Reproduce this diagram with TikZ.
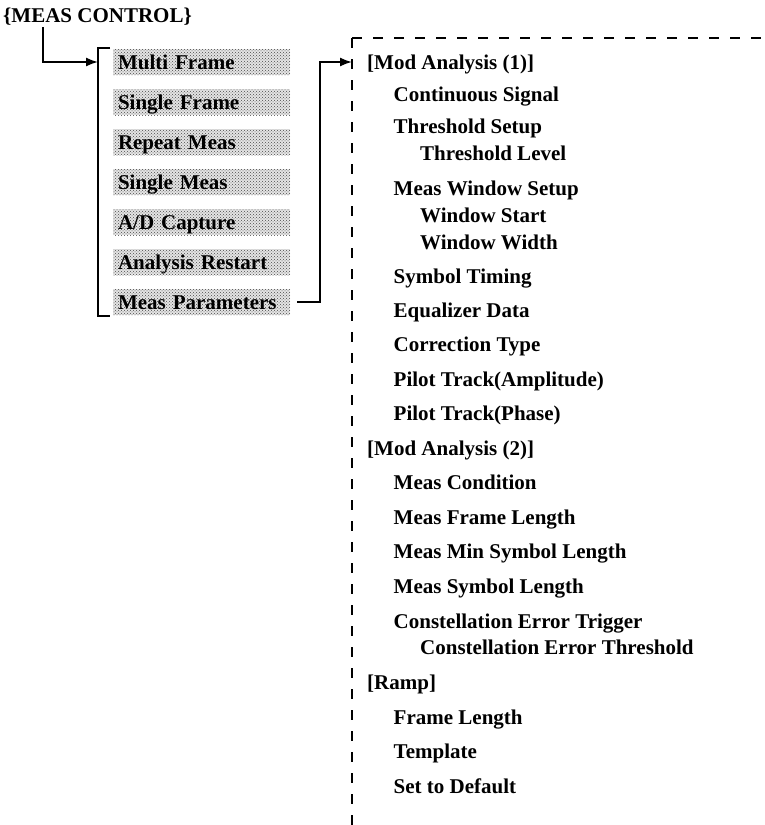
\documentclass[tikz,border=0pt]{standalone}
\usepackage{fontspec}
\setmainfont{Liberation Serif}
\usepackage{tikz}
\usetikzlibrary{arrows.meta,positioning,patterns}
\definecolor{dotgray}{HTML}{4A4A4A}
\definecolor{boxgray}{HTML}{E4E4E4}

\begin{document}
\begin{tikzpicture}[x=1pt,y=-1pt,
  font=\fontsize{21}{25}\selectfont\bfseries,
  item/.style={anchor=west,inner sep=0pt,text height=14pt,text depth=0pt},
  menubox/.style={preaction={fill=boxgray},pattern=crosshatch dots,pattern color=dotgray,
    minimum width=177pt,minimum height=26pt,text width=167pt,
    inner xsep=5pt,inner ysep=0pt,align=left,text height=14pt,text depth=0pt},
  link/.style={line width=1.6pt,-{Latex[length=12pt,width=9pt]}},
  dashline/.style={line width=2pt,dash pattern=on 10pt off 11pt}]
 \useasboundingbox (0,0) rectangle (765,825);
 \node[item] (title) at (3,15) {\{MEAS CONTROL\}};
 \foreach \txt [count=\i] in {Multi Frame,Single Frame,Repeat Meas,Single Meas,{A/D Capture},Analysis Restart,Meas Parameters}
   \node[menubox] (m\i) at (201.5,22+40*\i) {\txt};
 \coordinate (btop) at (98,48);
 \coordinate (bbot) at (98,316);
 \draw[line width=1.4pt] ([xshift=12pt]btop) -- (btop) -- (bbot) -- ([xshift=12pt]bbot);
 \draw[link] ([xshift=40pt,yshift=-5pt]title.south west) |- (btop |- m1);
 \coordinate (ptop) at (352,38);
 \draw[dashline] (ptop) -- (766,38);
 \draw[dashline] (ptop) -- (352,826);
 \foreach \lvl/\yy/\txt [count=\i] in {0/62/{[Mod Analysis (1)]},1/94/Continuous Signal,
   1/126/Threshold Setup,2/153/Threshold Level,1/188/Meas Window Setup,2/215/Window Start,
   2/242/Window Width,1/276/Symbol Timing,1/310/Equalizer Data,1/344/Correction Type,
   1/379/Pilot Track(Amplitude),1/413/Pilot Track(Phase),0/448/{[Mod Analysis (2)]},
   1/482/Meas Condition,1/517/Meas Frame Length,1/551/Meas Min Symbol Length,
   1/586/Meas Symbol Length,1/621/Constellation Error Trigger,
   2/647/Constellation Error Threshold,0/682/{[Ramp]},1/717/Frame Length,
   1/751/Template,1/786/Set to Default}
   \node[item] (r\i) at (367+26.5*\lvl,\yy) {\txt};
 \draw[link] ([xshift=7pt]m7.east) -- ++(23,0) |- (ptop |- r1);
\end{tikzpicture}
\end{document}
